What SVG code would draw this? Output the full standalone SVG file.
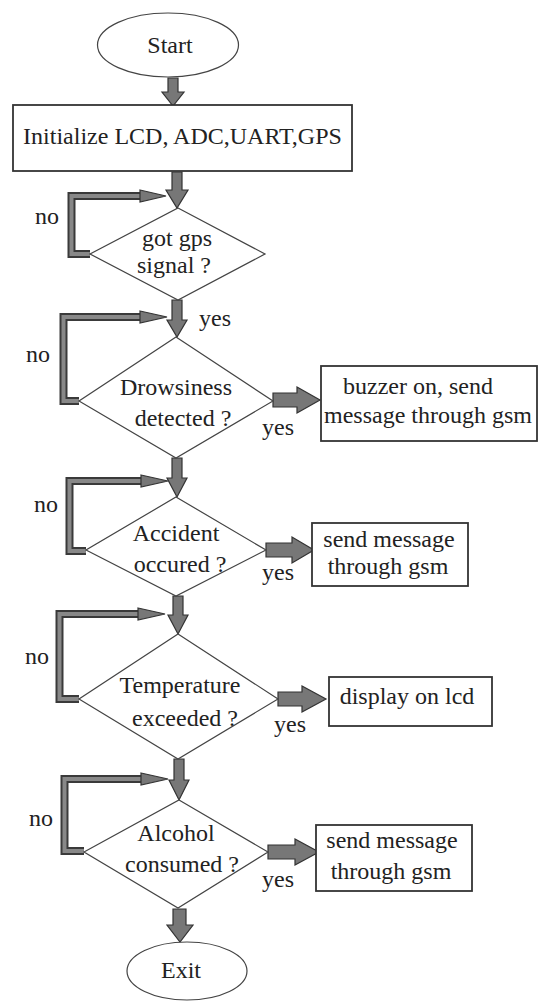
<svg xmlns="http://www.w3.org/2000/svg" width="538" height="1001" viewBox="0 0 538 1001">
<style>
text{font-family:"Liberation Serif","Times New Roman",serif;font-size:24px;fill:#222}
.c{text-anchor:middle}
.sh{fill:#fff;stroke:#444;stroke-width:1.2}
.bx{fill:#fff;stroke:#333;stroke-width:1.8}
.ar{fill:#777;stroke:#333;stroke-width:1.2;stroke-linejoin:miter}
.lo{fill:none;stroke:#3a3a3a;stroke-width:8}
.li{fill:none;stroke:#888;stroke-width:4}
</style>
<rect width="538" height="1001" fill="#fff"/>
<g id="connectors">
<polygon class="ar" points="168,78 178,78 178,92 184,92 173,106 162,92 168,92"/>
<polygon class="ar" points="172,172 182,172 182,190 188,190 177,208 166,190 172,190"/>
<polygon class="ar" points="172,300 182,300 182,320 187,320 177,337 167,320 172,320"/>
<polygon class="ar" points="172,458 182,458 182,478 187,478 177,497 167,478 172,478"/>
<polygon class="ar" points="173,596 183,596 183,615 188,615 178,634 168,615 173,615"/>
<polygon class="ar" points="174,759 184,759 184,780 189,780 179,800 169,780 174,780"/>
<polygon class="ar" points="173,909 186,909 186,925 193,925 180,942 167,925 173,925"/>
<polygon class="ar" points="273,393 297,393 297,387 320,400 297,413 297,407 273,407"/>
<polygon class="ar" points="266,543 292,543 292,537 314,550 292,563 292,557 266,557"/>
<polygon class="ar" points="278,692 302,692 302,686 326,699 302,712 302,706 278,706"/>
<polygon class="ar" points="268,845 295,845 295,839 319,852 295,865 295,859 268,859"/>
<path class="lo" d="M90,254 H71.5 V196 H142"/><path class="li" d="M90,254 H71.5 V196 H142"/>
<polygon class="ar" points="140,190 166,196 140,202"/>
<path class="lo" d="M79,401 H63.5 V317 H142"/><path class="li" d="M79,401 H63.5 V317 H142"/>
<polygon class="ar" points="140,311 167,317 140,323"/>
<path class="lo" d="M86,551 H69.5 V481 H143"/><path class="li" d="M86,551 H69.5 V481 H143"/>
<polygon class="ar" points="141,475 168,481 141,487"/>
<path class="lo" d="M79,699 H59.5 V614 H140"/><path class="li" d="M79,699 H59.5 V614 H140"/>
<polygon class="ar" points="138,608 165,614 138,620"/>
<path class="lo" d="M84,851 H64.5 V779 H143"/><path class="li" d="M84,851 H64.5 V779 H143"/>
<polygon class="ar" points="141,773 168,779 141,785"/>
<text x="47" y="224" class="c">no</text>
<text x="199" y="326">yes</text>
<text x="38" y="362" class="c">no</text>
<text x="262" y="435">yes</text>
<text x="46" y="512" class="c">no</text>
<text x="262" y="580">yes</text>
<text x="37" y="664" class="c">no</text>
<text x="274" y="732">yes</text>
<text x="41" y="826" class="c">no</text>
<text x="262" y="887">yes</text>
</g>
<g id="start"><ellipse class="sh" cx="168" cy="45" rx="70.5" ry="32"/><text x="170" y="53" class="c">Start</text></g>
<g id="init"><rect class="bx" x="13" y="105" width="339" height="66"/><text x="182.5" y="144" class="c">Initialize LCD, ADC,UART,GPS</text></g>
<g id="gps"><polygon class="sh" points="178,208 265,254 178,300 90,254"/><text x="177" y="246" class="c">got gps</text><text x="174" y="273" class="c">signal ?</text></g>
<g id="drowsy"><polygon class="sh" points="176,337 273,401 176,458 79,401"/><text x="176" y="395" class="c">Drowsiness</text><text x="183" y="426" class="c">detected ?</text></g>
<g id="buzzer"><rect class="bx" x="321" y="366" width="216" height="75"/><text x="343" y="394">buzzer on, send</text><text x="324" y="423">message through gsm</text></g>
<g id="accident"><polygon class="sh" points="176,497 266,550 176,596 86,550"/><text x="176" y="541" class="c">Accident</text><text x="180" y="572" class="c">occured ?</text></g>
<g id="msg1"><rect class="bx" x="312" y="523" width="156" height="63"/><text x="389" y="547" class="c">send message</text><text x="388" y="574" class="c">through gsm</text></g>
<g id="temp"><polygon class="sh" points="178,634 278,699 178,759 79,699"/><text x="180" y="693" class="c">Temperature</text><text x="185" y="726" class="c">exceeded ?</text></g>
<g id="lcd"><rect class="bx" x="329" y="677" width="163" height="49"/><text x="407" y="704" class="c">display on lcd</text></g>
<g id="alcohol"><polygon class="sh" points="179,800 268,852 178,908 84,852"/><text x="176" y="841" class="c">Alcohol</text><text x="182" y="872" class="c">consumed ?</text></g>
<g id="msg2"><rect class="bx" x="316" y="825" width="156" height="66"/><text x="392" y="848" class="c">send message</text><text x="391" y="879" class="c">through gsm</text></g>
<g id="exit"><ellipse class="sh" cx="187" cy="971" rx="60" ry="29"/><text x="181" y="978" class="c">Exit</text></g>
</svg>
